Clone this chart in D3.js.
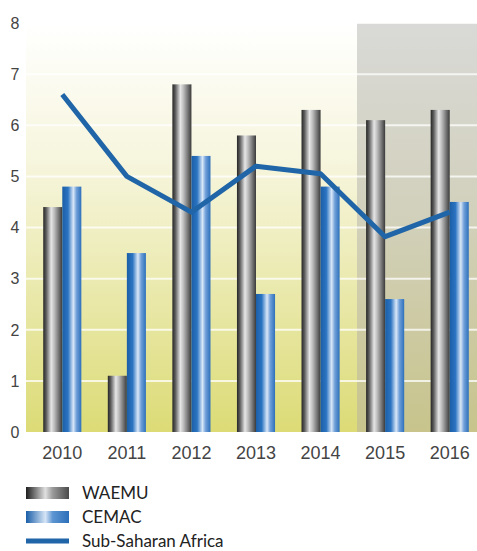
<!DOCTYPE html>
<html>
<head>
<meta charset="utf-8">
<script src="https://cdn.jsdelivr.net/npm/d3@7"></script>
<style>
body { margin: 0; background: #fff; }
svg { display: block; }
</style>
</head>
<body>
<svg id="chart"></svg>
<script>
var years = ["2010", "2011", "2012", "2013", "2014", "2015", "2016"];
var waemu = [4.4, 1.1, 6.8, 5.8, 6.3, 6.1, 6.3];
var cemac = [4.8, 3.5, 5.4, 2.7, 4.8, 2.6, 4.5];
var ssa = [6.6, 5.0, 4.3, 5.2, 5.05, 3.82, 4.3];
var yTicks = [0, 1, 2, 3, 4, 5, 6, 7, 8];
var projectedFrom = "2015";

var width = 477, height = 551;

var svg = d3.select("#chart")
    .attr("width", width)
    .attr("height", height);

var defs = svg.append("defs");

// gradients
var addGrad = function(id, stops, vertical) {
    var g = defs.append("linearGradient").attr("id", id)
        .attr("x1", 0).attr("y1", 0)
        .attr("x2", vertical ? 0 : 1).attr("y2", vertical ? 1 : 0);
    stops.forEach(function(s) {
        g.append("stop").attr("offset", s[0]).attr("stop-color", s[1]);
    });
};
addGrad("bgYellow", [["0%", "#ffffff"], ["35%", "#f6f5dc"], ["100%", "#dcdb76"]], true);
addGrad("bgGray", [["0%", "#d9d9d7"], ["45%", "#d2d1bd"], ["100%", "#c8c48c"]], true);
addGrad("barW", [["0%", "#262626"], ["15%", "#5a5a5a"], ["42%", "#e6e6e6"], ["58%", "#bdbdbd"], ["85%", "#6a6a6a"], ["100%", "#3a3a3a"]]);
addGrad("barC", [["0%", "#1b5ea6"], ["30%", "#2b74c2"], ["58%", "#d9e7f7"], ["75%", "#6f9fd8"], ["100%", "#2d70bb"]]);
addGrad("legW", [["0%", "#1e1e1e"], ["45%", "#e0e0e0"], ["62%", "#9a9a9a"], ["100%", "#4a4a4a"]]);
addGrad("legC", [["0%", "#1a5ea8"], ["45%", "#d6e5f6"], ["62%", "#5e95d2"], ["100%", "#2b6fb9"]]);

var plotLeft = 26, plotRight = 477;

var y = d3.scaleLinear().domain([0, 8]).range([432, 23]);

var x = d3.scaleBand()
    .domain(years)
    .range([30, 482])
    .paddingInner(0.41)
    .paddingOuter(0.205);

var x1 = d3.scaleBand()
    .domain(["waemu", "cemac"])
    .range([0, x.bandwidth()]);

// background
var grayStart = 357;
svg.append("rect")
    .attr("x", plotLeft).attr("y", y(8))
    .attr("width", grayStart - plotLeft).attr("height", y(0) - y(8))
    .attr("fill", "url(#bgYellow)");
svg.append("rect")
    .attr("x", grayStart).attr("y", y(8))
    .attr("width", plotRight - grayStart).attr("height", y(0) - y(8))
    .attr("fill", "url(#bgGray)");

// gridlines
svg.selectAll("line.grid")
    .data(yTicks.slice(1))
    .enter()
    .append("line")
    .attr("class", "grid")
    .attr("x1", plotLeft).attr("x2", plotRight)
    .attr("y1", function(d) { return y(d); })
    .attr("y2", function(d) { return y(d); })
    .attr("stroke", "#ffffff")
    .attr("stroke-opacity", 0.75)
    .attr("stroke-width", 2);

// bars
var rows = years.map(function(yr, i) {
    return { year: yr, waemu: waemu[i], cemac: cemac[i] };
});

var groups = svg.selectAll("g.year")
    .data(rows)
    .enter()
    .append("g")
    .attr("class", "year")
    .attr("transform", function(d) { return "translate(" + x(d.year) + ",0)"; });

groups.selectAll("rect")
    .data(function(d) {
        return [{ key: "waemu", v: d.waemu }, { key: "cemac", v: d.cemac }];
    })
    .enter()
    .append("rect")
    .attr("x", function(d) { return x1(d.key); })
    .attr("y", function(d) { return y(d.v); })
    .attr("width", x1.bandwidth())
    .attr("height", function(d) { return y(0) - y(d.v); })
    .attr("fill", function(d) { return d.key == "waemu" ? "url(#barW)" : "url(#barC)"; });

// line
var line = d3.line()
    .x(function(d, i) { return x(years[i]) + x.bandwidth() / 2; })
    .y(function(d) { return y(d); });

svg.append("path")
    .datum(ssa)
    .attr("d", line)
    .attr("fill", "none")
    .attr("stroke", "#1f65a7")
    .attr("stroke-width", 5)
    .attr("stroke-linejoin", "round");

// y axis labels
svg.selectAll("text.ytick")
    .data(yTicks)
    .enter()
    .append("text")
    .attr("class", "ytick")
    .attr("x", 15)
    .attr("y", function(d) { return y(d); })
    .attr("dy", "0.36em")
    .attr("text-anchor", "middle")
    .attr("font-family", "Liberation Sans, Arial, sans-serif")
    .attr("font-size", 16)
    .attr("fill", "#444")
    .text(function(d) { return d; });

// x axis labels
svg.selectAll("text.xtick")
    .data(years)
    .enter()
    .append("text")
    .attr("class", "xtick")
    .attr("x", function(d) { return x(d) + x.bandwidth() / 2; })
    .attr("y", 459)
    .attr("text-anchor", "middle")
    .attr("font-family", "Liberation Sans, Arial, sans-serif")
    .attr("font-size", 18)
    .attr("fill", "#444")
    .text(function(d) { return d; });

// legend
var legend = [
    { name: "WAEMU", type: "bar", fill: "url(#legW)", cy: 493 },
    { name: "CEMAC", type: "bar", fill: "url(#legC)", cy: 517 },
    { name: "Sub-Saharan Africa", type: "line", fill: "#1f65a7", cy: 541 }
];

var lg = svg.selectAll("g.legend")
    .data(legend)
    .enter()
    .append("g")
    .attr("class", "legend");

lg.filter(function(d) { return d.type == "bar"; })
    .append("rect")
    .attr("x", 26).attr("y", function(d) { return d.cy - 6; })
    .attr("width", 43).attr("height", 12)
    .attr("fill", function(d) { return d.fill; });

lg.filter(function(d) { return d.type == "line"; })
    .append("rect")
    .attr("x", 26).attr("y", function(d) { return d.cy - 2.5; })
    .attr("width", 43).attr("height", 5)
    .attr("fill", function(d) { return d.fill; });

lg.append("text")
    .attr("x", 82)
    .attr("y", function(d) { return d.cy; })
    .attr("dy", "0.36em")
    .attr("font-family", "Lato, sans-serif")
    .attr("font-size", 17)
    .attr("fill", "#222")
    .text(function(d) { return d.name; });
</script>
</body>
</html>
